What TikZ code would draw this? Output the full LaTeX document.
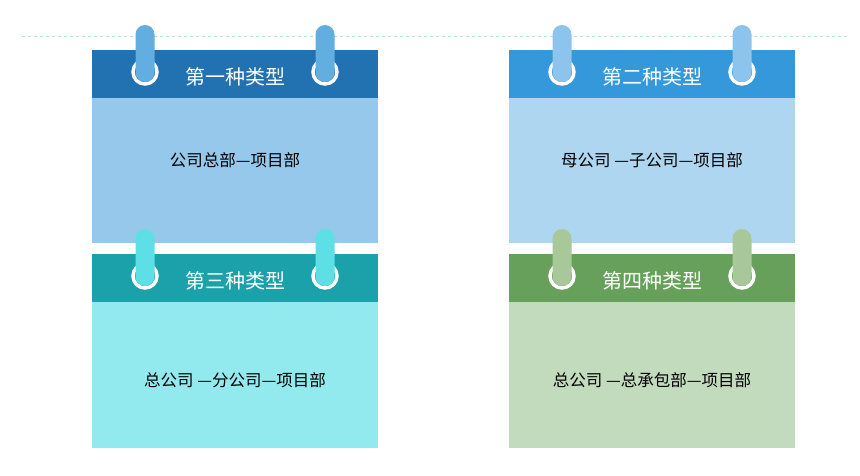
\documentclass[tikz,border=0pt]{standalone}
\usepackage{fontspec}
\setmainfont{Noto Sans CJK SC}
\begin{document}
\begin{tikzpicture}[x=1pt,y=-1pt,
  hdr/.style={font=\fontsize{20}{24}\selectfont,text=white},
  bodytxt/.style={font=\fontsize{16.5}{20}\selectfont,text=black}]
\useasboundingbox (0,0) rectangle (860,475);
\draw[dashed,draw=gray!40!cyan!40] (22,36) -- (850,36);
\def\card#1#2#3#4#5#6#7#8#9{%
  \fill[#6] (#1,#2) rectangle ({#1+286},{#2+48});
  \fill[#7] ({#1},{#2+48}) rectangle ({#1+286},{#2+#3});
  \node[hdr] (h#1-#2) at ({#1+143},{#2+27}) {#4};
  \node[bodytxt] (b#1-#2) at ({#1+143},{#9}) {#5};
  \foreach \px in {53,233}{
    \draw[white,line width=3.5pt] ({#1+\px},{#2+22}) circle (12);
    \fill[#8,rounded corners=9.5] ({#1+\px-9.5},{#2-25}) rectangle ({#1+\px+9.5},{#2+32});
  }}
\definecolor{h1}{HTML}{2271B0}\definecolor{p1}{HTML}{62AEE0}\definecolor{c1}{HTML}{96C8EC}
\definecolor{h2}{HTML}{3498DB}\definecolor{p2}{HTML}{8CC4EC}\definecolor{c2}{HTML}{AED6F1}
\definecolor{h3}{HTML}{1BA1AA}\definecolor{p3}{HTML}{5DDFE6}\definecolor{c3}{HTML}{92EAEE}
\definecolor{h4}{HTML}{66A05A}\definecolor{p4}{HTML}{A8C89A}\definecolor{c4}{HTML}{C3DBBD}
\card{92}{50}{193}{第一种类型}{公司总部—项目部}{h1}{c1}{p1}{160}
\card{509}{50}{193}{第二种类型}{母公司 —子公司—项目部}{h2}{c2}{p2}{160}
\card{92}{254}{194}{第三种类型}{总公司 —分公司—项目部}{h3}{c3}{p3}{380}
\card{509}{254}{194}{第四种类型}{总公司 —总承包部—项目部}{h4}{c4}{p4}{380}
\end{tikzpicture}
\end{document}
